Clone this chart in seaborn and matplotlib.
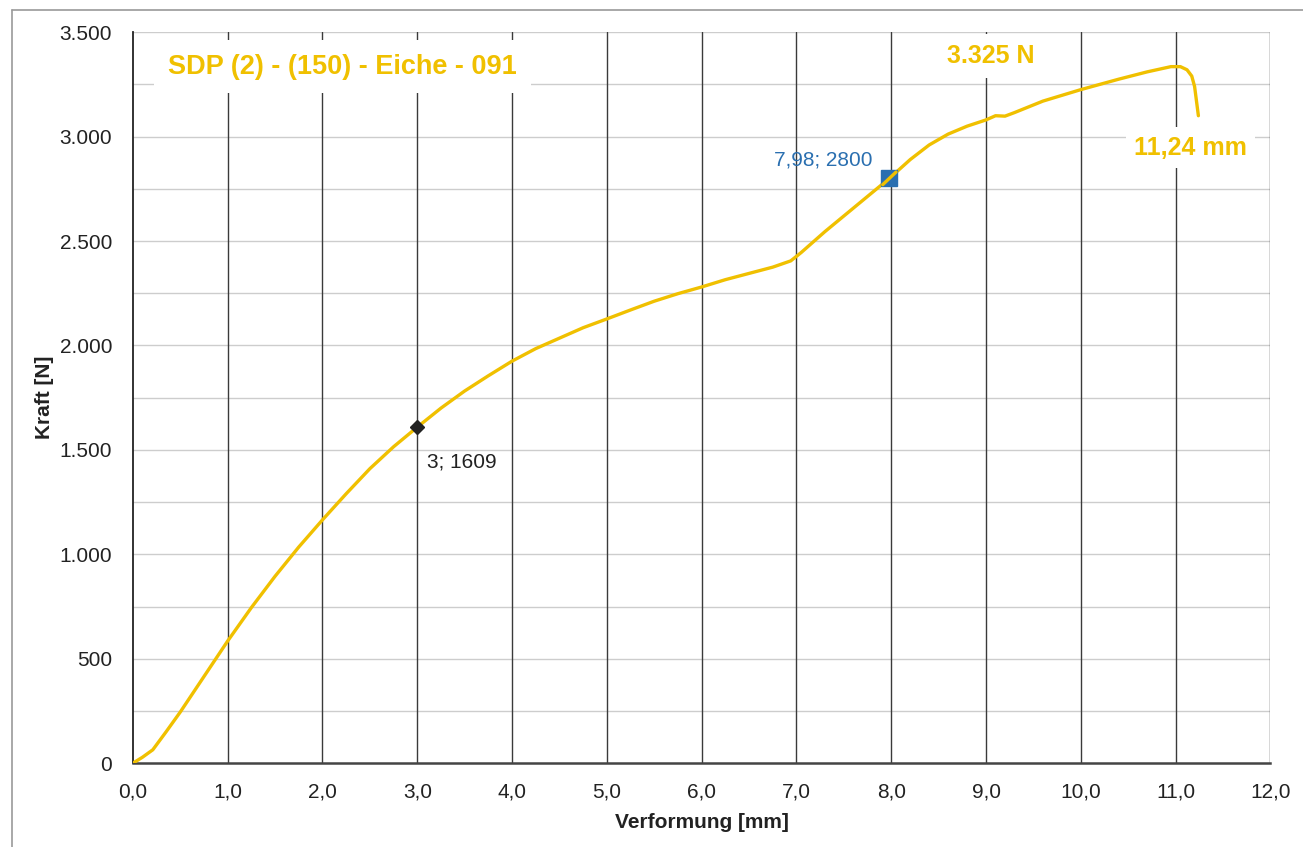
import matplotlib
matplotlib.use("Agg")
import matplotlib.pyplot as plt
import seaborn as sns
import pandas as pd
from matplotlib.ticker import FuncFormatter, MultipleLocator
from matplotlib.lines import Line2D

# ---- data ----
verformung = [0.0, 0.1, 0.21, 0.35, 0.5, 0.75, 1.0, 1.25, 1.5, 1.75, 2.0, 2.25, 2.5,
              2.75, 3.0, 3.25, 3.5, 3.75, 4.0, 4.25, 4.5, 4.75, 5.0, 5.25, 5.5,
              5.75, 6.0, 6.25, 6.5, 6.75, 6.94, 7.05, 7.3, 7.5, 7.7, 7.98, 8.2,
              8.4, 8.6, 8.8, 9.0, 9.1, 9.2, 9.3, 9.6, 10.0, 10.4, 10.7, 10.95,
              11.05, 11.12, 11.17, 11.2, 11.22, 11.24]
kraft = [0, 28, 64, 150, 245, 415, 585, 745, 895, 1035, 1165, 1290, 1410,
         1515, 1609, 1700, 1782, 1855, 1925, 1985, 2035, 2085, 2127, 2170, 2212,
         2248, 2280, 2315, 2345, 2375, 2405, 2445, 2545, 2620, 2695, 2800, 2890,
         2960, 3012, 3050, 3080, 3100, 3098, 3115, 3170, 3225, 3275, 3310, 3335,
         3335, 3320, 3290, 3240, 3170, 3100]

title_text = "SDP (2) - (150) - Eiche - 091"
peak_label = "3.325 N"
end_label = "11,24 mm"
point1 = (3.0, 1609)
point1_label = "3; 1609"
point2 = (7.98, 2800)
point2_label = "7,98; 2800"

x_label = "Verformung [mm]"
y_label = "Kraft [N]"

# ---- style ----
sns.set_style("white")
plt.rcParams["font.family"] = ["Liberation Sans", "DejaVu Sans"]

yellow = "#F0C000"
blue = "#2a6fb0"

fig = plt.figure(figsize=(13.03, 8.47), dpi=100)
ax = fig.add_axes([0.102, 0.099, 0.873, 0.863])

df = pd.DataFrame({"Verformung": verformung, "Kraft": kraft})
sns.lineplot(data=df, x="Verformung", y="Kraft", ax=ax, color=yellow, linewidth=2.4,
             sort=False, estimator=None, zorder=3)

ax.set_xlim(0, 12)
ax.set_ylim(0, 3500)

# grid
ax.yaxis.set_major_locator(MultipleLocator(500))
ax.xaxis.set_major_locator(MultipleLocator(1))
ax.grid(False)
for yv in range(250, 3501, 250):
    ax.axhline(yv, color="#cdcdcd", linewidth=1.0, zorder=0)
for xv in range(1, 13):
    ax.axvline(xv, color="#3a3a3a", linewidth=1.0, zorder=1)

for s in ["top", "right"]:
    ax.spines[s].set_visible(False)
ax.spines["left"].set_color("#222222")
ax.spines["bottom"].set_color("#444444")
ax.spines["left"].set_linewidth(1.3)
ax.spines["bottom"].set_linewidth(1.8)

ax.xaxis.set_major_formatter(FuncFormatter(lambda v, p: f"{v:.1f}".replace(".", ",")))
ax.yaxis.set_major_formatter(FuncFormatter(lambda v, p: f"{int(v):,}".replace(",", ".")))
ax.tick_params(axis="both", which="major", direction="out", length=4, width=1,
               color="#444444", labelsize=15, labelcolor="#222222")
ax.tick_params(axis="x", pad=10)
ax.tick_params(axis="y", pad=11)

ax.set_xlabel(x_label, fontsize=15, fontweight="bold", color="#222222", labelpad=8)
ax.set_ylabel(y_label, fontsize=15, fontweight="bold", color="#222222", labelpad=4)

# markers
ax.plot([point1[0]], [point1[1]], marker="D", color="#222222", markersize=7, zorder=5)
ax.plot([point2[0]], [point2[1]], marker="s", color=blue, markersize=11, zorder=4)
ax.plot([point2[0] - 0.07, point2[0] + 0.07], [point2[1] - 30, point2[1] + 30],
        color=yellow, linewidth=2.4, zorder=5)

# annotations
ax.text(0.37, 3335, title_text, color=yellow, fontsize=19.5, fontweight="bold",
        ha="left", va="center", zorder=2,
        bbox=dict(facecolor="white", edgecolor="none", pad=10))
ax.text(9.05, 3385, peak_label, color=yellow, fontsize=18, fontweight="bold",
        ha="center", va="center", zorder=2,
        bbox=dict(facecolor="white", edgecolor="none", pad=7))
ax.text(11.16, 2947, end_label, color=yellow, fontsize=18, fontweight="bold",
        ha="center", va="center", zorder=2,
        bbox=dict(facecolor="white", edgecolor="none", pad=6))
ax.text(7.8, 2890, point2_label, color=blue, fontsize=15,
        ha="right", va="center", zorder=2)
ax.text(3.1, 1440, point1_label, color="#222222", fontsize=15,
        ha="left", va="center", zorder=2)

# outer frame of the scanned figure
fig.add_artist(Line2D([0.009, 0.009], [0.0, 0.988], transform=fig.transFigure,
                      color="#9a9a9a", linewidth=1.2))
fig.add_artist(Line2D([0.009, 1.0], [0.988, 0.988], transform=fig.transFigure,
                      color="#9a9a9a", linewidth=1.2))

fig.savefig("out.png", dpi=100)
